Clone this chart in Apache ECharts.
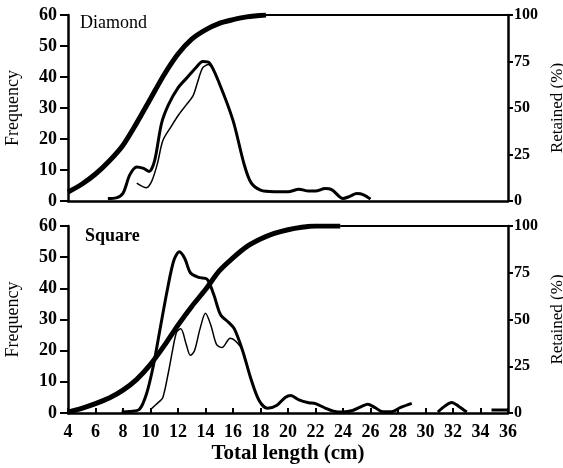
<!DOCTYPE html>
<html>
<head>
<meta charset="utf-8">
<script src="https://cdn.jsdelivr.net/npm/echarts@6/dist/echarts.min.js"></script>
<style>
html, body { margin: 0; padding: 0; background: #fff; }
#chart { width: 563px; height: 468px; }
</style>
</head>
<body>
<div id="chart"></div>
<script>
/* length-frequency curves, diamond vs square mesh */
var xTicks = [4, 36, 2];
var freqTicks = [0, 60, 10];
var retTicks = [0, 100, 25];

// Diamond (top)
var diamondFreqThick = [[6.9, 0.8], [7.5, 1], [8, 2.5], [8.5, 8.5], [9, 11], [9.5, 10.5], [9.9, 9.5], [10.3, 13],
    [10.8, 25], [11.3, 31], [12, 36.5], [12.7, 40], [13.3, 43], [13.8, 45], [14.3, 44.5], [15, 38], [16, 26],
    [16.8, 12], [17.3, 6], [18, 3.5], [19, 3], [20, 3], [20.8, 3.8], [21.5, 3.2], [22, 3.2], [22.7, 4],
    [23.2, 3.6], [24, 0.8], [24.5, 1.5], [25, 2.4], [25.5, 2], [26, 0.6]];
var diamondFreqThin = [[9, 5.8], [9.7, 4.3], [10.1, 6.5], [10.5, 12], [10.9, 19.5], [11.5, 24], [12, 27.5],
    [12.6, 31], [13.1, 34], [13.4, 38], [13.8, 43], [14.2, 44], [15, 38], [16, 26], [16.8, 12], [17.3, 6], [18, 3.5]];
var diamondRetained = [[4, 4.8], [5, 9], [6, 14.5], [7, 21.5], [8, 30], [9, 42], [10, 55], [11, 68], [12, 79],
    [13, 87], [14, 92], [15, 95.5], [16, 97.5], [17, 99], [18.4, 100]];
var diamondRetainedFlat = [[18.4, 100], [36, 100]];

// Square (bottom)
var squareFreqThick = [[7.9, 0.3], [8.5, 0.5], [9.2, 1.2], [9.7, 6], [10.2, 15], [10.7, 27], [11.2, 39],
    [11.7, 49], [12.1, 51.7], [12.5, 49.5], [12.9, 45], [13.5, 43.5], [14.1, 43], [14.6, 38], [15.1, 31.5],
    [15.7, 29], [16.1, 27], [16.7, 20], [17.3, 11], [17.9, 4], [18.5, 1.5], [19.2, 2.5], [19.8, 5], [20.2, 5.6],
    [20.8, 4.2], [21.5, 3.3], [22, 3], [22.7, 1.6], [23.3, 0.6], [24, 0.3], [24.7, 0.8], [25.4, 2.2], [25.8, 2.8],
    [26.3, 1.8], [26.9, 0.4], [27.5, 0.4], [28.2, 1.8], [29, 3.1], [30, null], [30.9, 0.3], [31.4, 2.2],
    [31.9, 3.4], [32.4, 2.2], [33, 0.3], [34, null], [34.8, 1], [36, 1]];
var squareFreqThin = [[10.1, 1.5], [10.6, 3.5], [10.9, 5], [11.3, 13], [11.6, 20], [11.9, 26], [12.2, 27],
    [12.6, 22], [12.9, 18.5], [13.2, 20], [13.6, 27], [14, 32], [14.4, 28], [14.8, 22], [15.2, 21], [15.8, 24],
    [16.2, 23], [16.7, 20], [17.3, 11], [17.9, 4], [18.5, 1.5]];
var squareRetained = [[4, 0.5], [5, 2.5], [6, 5], [7, 8], [8, 12.2], [9, 18], [10, 26], [11, 36], [12, 47],
    [13, 57], [14, 66], [15, 76], [16, 83], [17, 89], [18, 93], [19, 96], [20, 98], [21, 99.3], [22, 100], [23.8, 100]];
var squareRetainedFlat = [[23.8, 100], [36, 100]];

var panelTitles = ['Diamond', 'Square'];

var serif = '"Liberation Serif", "DejaVu Serif", serif';
var axisLine = { show: true, lineStyle: { color: '#000', width: 2.5 } };

function xAxis(idx, showLabels) {
    return {
        type: 'value', gridIndex: idx, min: xTicks[0], max: xTicks[1], interval: xTicks[2],
        axisLine: axisLine,
        axisTick: { show: showLabels, inside: true, length: 5, lineStyle: { color: '#000', width: 2 } },
        axisLabel: { show: showLabels, margin: 10, fontFamily: serif, fontSize: 18, fontWeight: 'bold', color: '#000' },
        splitLine: { show: false },
        name: showLabels ? 'Total length (cm)' : '',
        nameLocation: 'middle', nameGap: 30,
        nameTextStyle: { fontFamily: serif, fontSize: 21, fontWeight: 'bold', color: '#000' }
    };
}
function freqAxis(idx) {
    return {
        type: 'value', gridIndex: idx, min: freqTicks[0], max: freqTicks[1], interval: freqTicks[2],
        axisLine: axisLine,
        axisTick: { show: true, length: 8, lineStyle: { color: '#000', width: 2 } },
        axisLabel: { margin: 11, fontFamily: serif, fontSize: 18, fontWeight: 'bold', color: '#000' },
        splitLine: { show: false },
        name: 'Frequency', nameLocation: 'middle', nameGap: 46, nameRotate: 90,
        nameTextStyle: { fontFamily: serif, fontSize: 18, color: '#000' }
    };
}
function retAxis(idx) {
    return {
        type: 'value', gridIndex: idx, position: 'right', min: retTicks[0], max: retTicks[1], interval: retTicks[2],
        axisLine: axisLine,
        axisTick: { show: true, length: 5, lineStyle: { color: '#000', width: 2 } },
        axisLabel: { margin: 6, fontFamily: serif, fontSize: 16, fontWeight: 'bold', color: '#000' },
        splitLine: { show: false },
        name: 'Retained (%)', nameLocation: 'middle', nameGap: 37, nameRotate: 90,
        nameTextStyle: { fontFamily: serif, fontSize: 17, color: '#000' }
    };
}
function line(data, xi, yi, width) {
    return {
        type: 'line', xAxisIndex: xi, yAxisIndex: yi, data: data, smooth: 0.3,
        showSymbol: false, connectNulls: false, silent: true,
        lineStyle: { color: '#000', width: width }
    };
}

var chart = echarts.init(document.getElementById('chart'));
chart.setOption({
    animation: false,
    backgroundColor: '#fff',
    title: [
        { text: panelTitles[0], left: 75, top: 9, textStyle: { fontFamily: serif, fontSize: 18, fontWeight: 'normal', color: '#000' } },
        { text: panelTitles[1], left: 80, top: 222, textStyle: { fontFamily: serif, fontSize: 18, fontWeight: 'bold', color: '#000' } }
    ],
    grid: [
        { left: 68, right: 55, top: 15, height: 186, outerBoundsMode: 'none' },
        { left: 68, right: 55, top: 226, height: 187, outerBoundsMode: 'none' }
    ],
    xAxis: [xAxis(0, false), xAxis(1, true)],
    yAxis: [freqAxis(0), retAxis(0), freqAxis(1), retAxis(1)],
    series: [
        line(diamondRetained, 0, 1, 5),
        line(diamondRetainedFlat, 0, 1, 2),
        line(diamondFreqThick, 0, 0, 3),
        line(diamondFreqThin, 0, 0, 1.5),
        line(squareRetained, 1, 3, 5),
        line(squareRetainedFlat, 1, 3, 2),
        line(squareFreqThick, 1, 2, 3),
        line(squareFreqThin, 1, 2, 1.5)
    ]
});
</script>
</body>
</html>
